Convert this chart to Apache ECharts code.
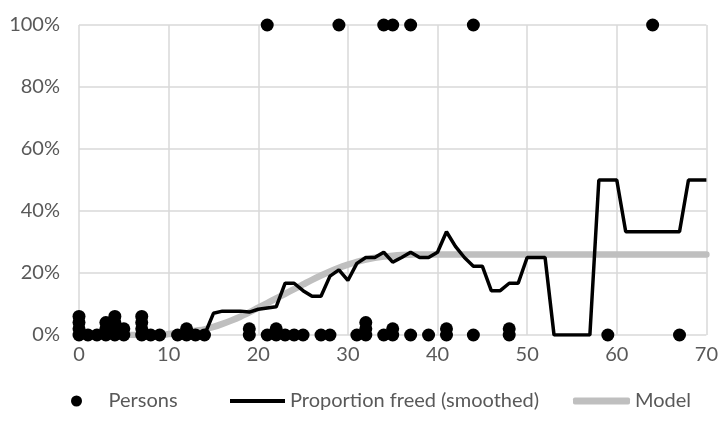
<!DOCTYPE html>
<html>
<head>
<meta charset="utf-8">
<script src="https://cdn.jsdelivr.net/npm/echarts@6/dist/echarts.min.js"></script>
<style>
  html, body { margin: 0; padding: 0; background: #fff; }
  #chart { width: 721px; height: 421px; }
</style>
</head>
<body>
<div id="chart"></div>
<script>
// Individual persons: age and outcome (1 = freed); 0-outcome duplicates are stacked slightly
const personAges = [
  0, 0, 0, 0, 1, 2, 3, 3, 3, 4, 4, 4, 4, 5, 5, 7, 7, 7, 7, 8, 9,
  11, 12, 12, 13, 14, 19, 19, 21, 22, 22, 23, 24, 25, 27, 28,
  31, 32, 32, 32, 34, 35, 35, 37, 39, 41, 41, 44, 48, 48, 59, 67,
  21, 29, 34, 35, 37, 44, 64
];
const personValues = [
  0, 0.02, 0.04, 0.06, 0, 0, 0, 0.02, 0.04, 0, 0.02, 0.04, 0.06, 0, 0.02, 0, 0.02, 0.04, 0.06, 0, 0,
  0, 0, 0.02, 0, 0, 0, 0.02, 0, 0, 0.02, 0, 0, 0, 0, 0,
  0, 0, 0.02, 0.04, 0, 0, 0.02, 0, 0, 0, 0.02, 0, 0, 0.02, 0, 0,
  1, 1, 1, 1, 1, 1, 1
];

// Smoothed proportion freed by age
const propAges = [
  14, 15, 16, 17, 18, 19, 20, 21, 22, 23, 24, 25, 26, 27, 28, 29, 30,
  31, 32, 33, 34, 35, 36, 37, 38, 39, 40, 41, 42, 43, 44, 45, 46, 47,
  48, 49, 50, 51, 52, 53, 54, 55, 56, 57, 58, 59, 60, 61, 62, 63, 64,
  65, 66, 67, 68, 69, 70
];
const propValues = [
  0, 0.07, 0.077, 0.077, 0.077, 0.074, 0.083, 0.087, 0.091, 0.167, 0.167, 0.143, 0.125, 0.125, 0.19, 0.21, 0.176,
  0.231, 0.25, 0.25, 0.267, 0.235, 0.25, 0.267, 0.25, 0.25, 0.267, 0.333, 0.286, 0.25, 0.222, 0.222, 0.143, 0.143,
  0.167, 0.167, 0.25, 0.25, 0.25, 0, 0, 0, 0, 0, 0.5, 0.5, 0.5, 0.333, 0.333, 0.333, 0.333,
  0.333, 0.333, 0.333, 0.5, 0.5, 0.5
];

// Fitted model by age
const modelAges = [
  0, 1, 2, 3, 4, 5, 6, 7, 8, 9, 10, 11, 12, 13, 14, 15, 16, 17, 18, 19, 20,
  21, 22, 23, 24, 25, 26, 27, 28, 29, 30, 31, 32, 33, 34, 35, 36, 37, 38, 39, 40,
  45, 50, 55, 60, 65, 70
];
const modelValues = [
  0, 0, 0, 0, 0, 0, 0, 0, 0, 0, 0.003, 0.006, 0.01, 0.014, 0.018, 0.026, 0.036, 0.047, 0.059, 0.073, 0.088,
  0.103, 0.118, 0.133, 0.148, 0.163, 0.178, 0.192, 0.205, 0.217, 0.227, 0.236, 0.243, 0.249, 0.253, 0.256, 0.258, 0.259, 0.26, 0.26, 0.26,
  0.26, 0.26, 0.26, 0.26, 0.26, 0.26
];

const xTicks = { min: 0, max: 70, interval: 10 };
const yTicks = { min: 0, max: 1, interval: 0.2 };

const pair = (xs, ys) => xs.map((x, i) => [x, ys[i]]);

const FONT = 'Lato, "Open Sans", sans-serif';
const FONT_SIZE = 20;
const TEXT = '#595959';
const GRID = '#d9d9d9';
const legendText = { color: TEXT, fontFamily: FONT, fontSize: FONT_SIZE };

const chart = echarts.init(document.getElementById('chart'), null, { renderer: 'canvas' });

chart.setOption({
  animation: false,
  backgroundColor: '#ffffff',
  grid: { left: 79, right: 12, top: 25, bottom: 86 },
  xAxis: {
    type: 'value',
    min: xTicks.min, max: xTicks.max, interval: xTicks.interval,
    axisLine: { show: false },
    axisTick: { show: false },
    splitLine: { show: true, lineStyle: { color: GRID, width: 1.5 } },
    axisLabel: { color: TEXT, fontFamily: FONT, fontSize: FONT_SIZE, margin: 10 }
  },
  yAxis: {
    type: 'value',
    min: yTicks.min, max: yTicks.max, interval: yTicks.interval,
    axisLine: { show: false },
    axisTick: { show: false },
    splitLine: { show: true, lineStyle: { color: GRID, width: 1.5 } },
    axisLabel: {
      color: TEXT, fontFamily: FONT, fontSize: FONT_SIZE, margin: 19,
      formatter: v => Math.round(v * 100) + '%'
    }
  },
  legend: [
    {
      data: [{ name: 'Persons', icon: 'circle', itemStyle: { color: '#000', opacity: 1 } }],
      left: 66, top: 386,
      itemWidth: 54, itemHeight: 11,
      textStyle: legendText
    },
    {
      data: [{ name: 'Proportion freed (smoothed)', icon: 'rect', itemStyle: { color: '#000' } }],
      left: 225, top: 386,
      itemWidth: 55, itemHeight: 4,
      textStyle: legendText
    },
    {
      data: [{ name: 'Model', icon: 'roundRect', itemStyle: { color: '#bfbfbf' } }],
      left: 568, top: 386,
      itemWidth: 57, itemHeight: 7,
      textStyle: legendText
    }
  ],
  series: [
    {
      name: 'Model',
      type: 'line',
      data: pair(modelAges, modelValues),
      smooth: 0.3,
      symbol: 'none',
      lineStyle: { color: '#bfbfbf', width: 6.5, cap: 'round' },
      itemStyle: { color: '#bfbfbf' },
      z: 1
    },
    {
      name: 'Proportion freed (smoothed)',
      type: 'line',
      data: pair(propAges, propValues),
      symbol: 'none',
      lineStyle: { color: '#000000', width: 3.5 },
      itemStyle: { color: '#000000' },
      z: 2
    },
    {
      name: 'Persons',
      type: 'scatter',
      data: pair(personAges, personValues),
      symbol: 'circle',
      symbolSize: 13,
      itemStyle: { color: '#000000', opacity: 1 },
      z: 3
    }
  ]
});
</script>
</body>
</html>
